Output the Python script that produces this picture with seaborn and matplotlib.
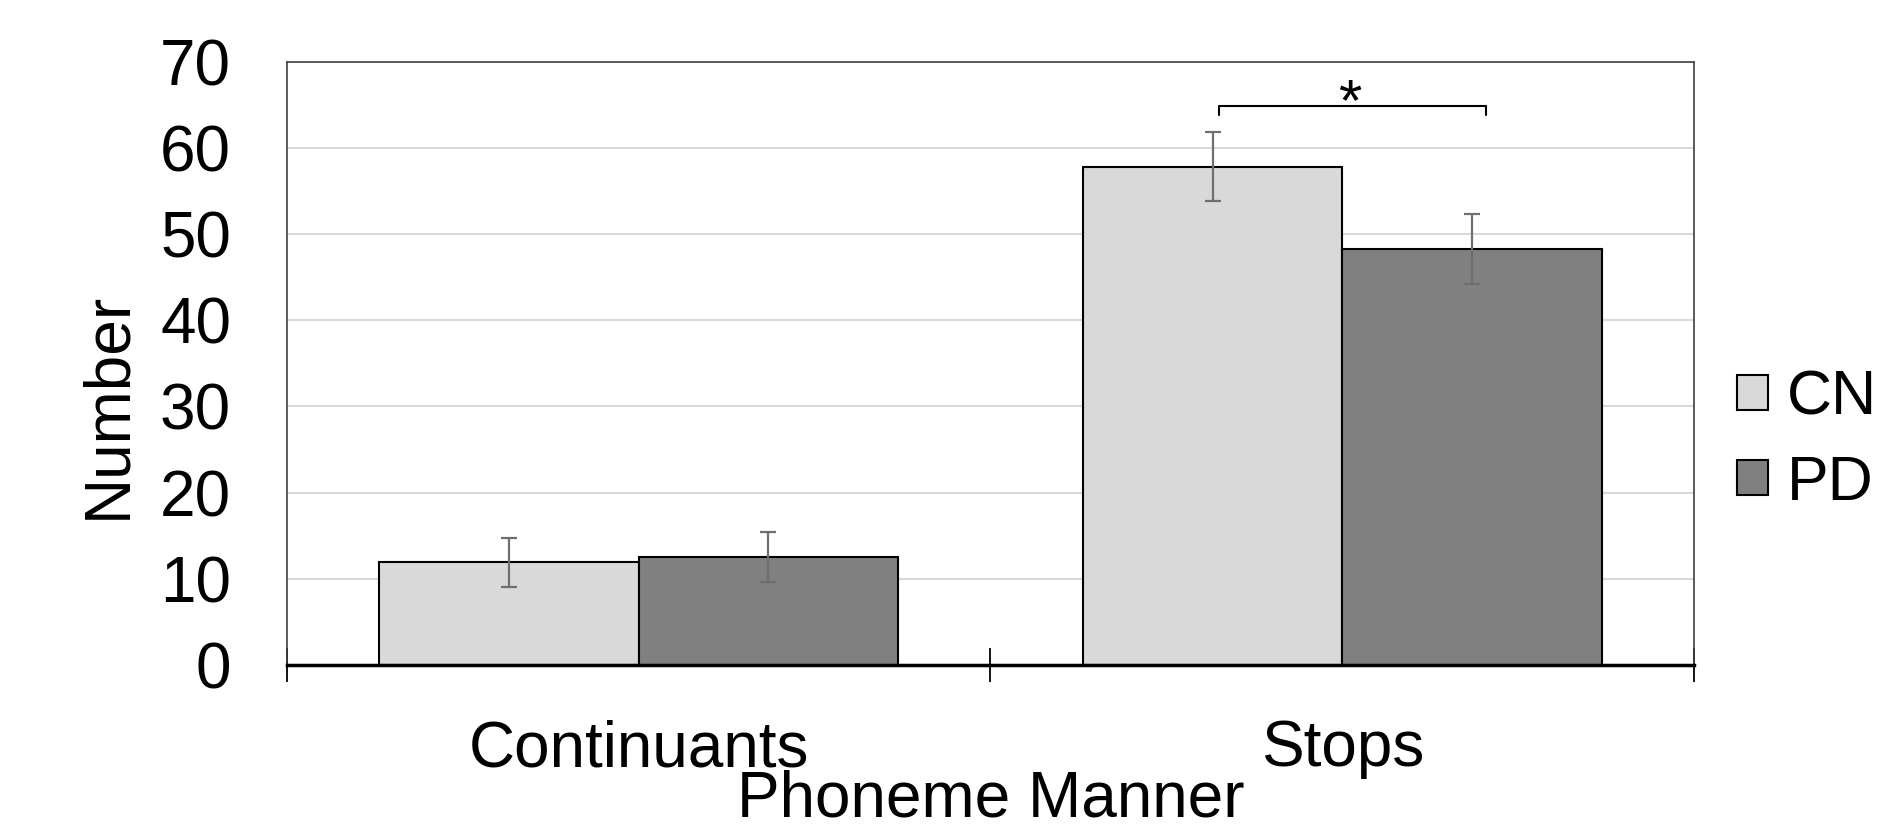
import numpy as np
import pandas as pd
import matplotlib
matplotlib.use("Agg")
import matplotlib.pyplot as plt
import seaborn as sns

categories = ["Continuants", "Stops"]
groups = ["CN", "PD"]
cn_means = [11.9, 57.8]
pd_means = [12.5, 48.3]
cn_err = [2.8, 4.0]
pd_err = [2.9, 4.05]
yticks = [0, 10, 20, 30, 40, 50, 60, 70]
sig_y = 64.9
sig_drop = 63.8
sig_x = [0.825, 1.205]
sig_label = "*"

sns.set_theme(style="white")
plt.rcParams["font.family"] = ["Liberation Sans", "DejaVu Sans"]
plt.rcParams["text.color"] = "black"
plt.rcParams["axes.labelcolor"] = "black"
plt.rcParams["xtick.color"] = "black"
plt.rcParams["ytick.color"] = "black"

df = pd.DataFrame({
    "Phoneme Manner": categories * 2,
    "Group": [groups[0]] * 2 + [groups[1]] * 2,
    "Number": cn_means + pd_means,
    "err": cn_err + pd_err,
})

fig = plt.figure(figsize=(18.96, 8.33), dpi=100)
ax = fig.add_axes([0.1512, 0.2017, 0.7423, 0.7242])

sns.barplot(data=df, x="Phoneme Manner", y="Number", hue="Group",
            order=categories, hue_order=groups,
            palette=["#d9d9d9", "#808080"], width=0.737,
            edgecolor="black", linewidth=1.5, errorbar=None, ax=ax,
            saturation=1, zorder=3)

# error bars at bar centers
for hi, g in enumerate(groups):
    cont = ax.containers[hi]
    sub = df[df["Group"] == g].set_index("Phoneme Manner").loc[categories]
    xs = [p.get_x() + p.get_width() / 2 for p in cont.patches]
    ax.errorbar(xs, sub["Number"].values, yerr=sub["err"].values, fmt="none",
                ecolor="#6f6f6f", elinewidth=1.6, capsize=5.5, capthick=1.6,
                zorder=4)

ax.set_xlim(-0.5, 1.5)
ax.set_ylim(0, 70)
ax.set_yticks(yticks)
ax.set_yticklabels([str(v) for v in yticks])
ax.yaxis.grid(True, color="#d9d9d9", linewidth=1.5, zorder=0)
ax.set_axisbelow(True)

ax.tick_params(axis="y", left=True, length=0, pad=40, labelsize=46,
               labelcolor="black")
ax.tick_params(axis="x", which="major", bottom=True, length=0, pad=39,
               labelsize=46, labelcolor="black")
ax.set_xticks([-0.5, 0.5, 1.5], minor=True)
ax.tick_params(axis="x", which="minor", bottom=True, direction="inout",
               length=25, width=1.3, color="black")

for s in ["top", "left", "right"]:
    ax.spines[s].set_visible(True)
    ax.spines[s].set_color("#404040")
    ax.spines[s].set_linewidth(1.2)
ax.spines["bottom"].set_color("black")
ax.spines["bottom"].set_linewidth(2.5)
ax.spines["bottom"].set_zorder(5)

ax.set_xlabel("Phoneme Manner", fontsize=46, labelpad=-7, color="black")
ax.set_ylabel("Number", fontsize=46, labelpad=16, color="black")
ax.yaxis.label.set_y(0.43)

# significance bracket
ax.plot([sig_x[0], sig_x[0], sig_x[1], sig_x[1]],
        [sig_drop, sig_y, sig_y, sig_drop], color="black", linewidth=1.5,
        zorder=5, clip_on=False)
ax.text((sig_x[0] + sig_x[1]) / 2 - 0.005, 63.2, sig_label,
        ha="center", va="baseline", fontsize=43, color="black")

handles, labels = ax.get_legend_handles_labels()
leg = ax.legend(handles, labels, loc="center left",
                bbox_to_anchor=(0.916, 0.471), bbox_transform=fig.transFigure,
                frameon=False, fontsize=45, handlelength=0.5,
                handleheight=0.5, handletextpad=0.3, labelspacing=0.42,
                borderpad=0, borderaxespad=0)
for h in leg.legend_handles:
    h.set_edgecolor("black")
    h.set_linewidth(1.5)

fig.savefig("out.png", dpi=100)
